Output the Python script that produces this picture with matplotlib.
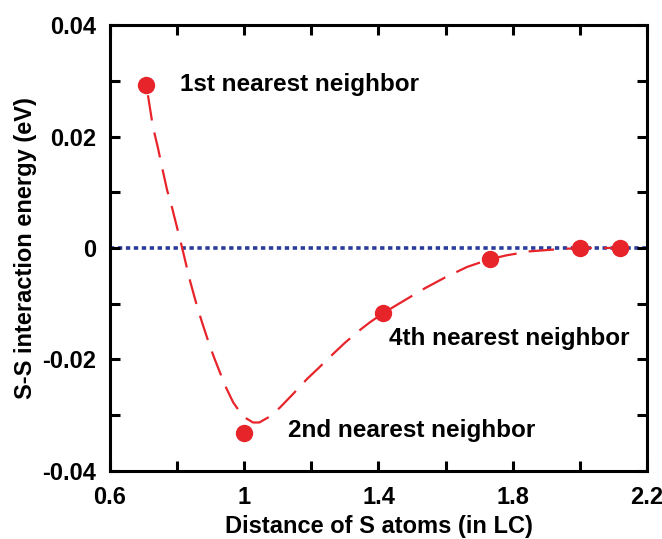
import matplotlib.pyplot as plt
from matplotlib.ticker import MultipleLocator

plt.rcParams['font.family'] = ['Liberation Sans', 'DejaVu Sans']
plt.rcParams['font.weight'] = 'bold'

# computed energies
dist = [0.707, 1.0, 1.414, 1.732, 2.0, 2.121]
energy = [0.0292, -0.0332, -0.0117, -0.0020, 0.0, 0.0]

# fitted curve
fit_x = [0.713, 0.719, 0.728, 0.743, 0.755, 0.770, 0.785, 0.800, 0.815, 0.838,
         0.859, 0.874, 0.898, 0.913, 0.943, 0.967, 0.996, 1.026, 1.045, 1.071,
         1.105, 1.142, 1.187, 1.222, 1.256, 1.300, 1.345, 1.375, 1.414, 1.455,
         1.494, 1.539, 1.598, 1.664, 1.732, 1.783, 1.851, 1.940, 2.000, 2.121]
fit_y = [0.0274, 0.0251, 0.0217, 0.0179, 0.0145, 0.0104, 0.0072, 0.0036, 0.0, -0.0058,
         -0.0104, -0.0133, -0.0177, -0.0201, -0.0247, -0.0277, -0.0302, -0.0313, -0.0313, -0.0304,
         -0.0287, -0.0264, -0.0235, -0.0215, -0.0195, -0.0170, -0.0147, -0.0133, -0.0117, -0.0102,
         -0.0088, -0.0072, -0.0053, -0.0034, -0.0020, -0.0013, -0.0006, -0.0002, 0.0, 0.0]

labels = ["1st nearest neighbor", "2nd nearest neighbor", "4th nearest neighbor"]
label_xy = [(0.810, 0.0294), (1.13, -0.0327), (1.43, -0.0163)]

fig = plt.figure(figsize=(6.62, 5.39), dpi=100)
ax = fig.add_axes([0.1662, 0.1262, 0.8111, 0.8274])

ax.axhline(0, color='#2a3b9c', lw=2.6, ls=(0, (1.2, 1.0)), zorder=1)
ax.plot(fit_x, fit_y, color='#e8242b', lw=1.6, ls=(0, (11.5, 5.5)), zorder=2)
ax.plot(dist, energy, 'o', color='#e8242b', ms=11.5, zorder=3)

for t, (x, y) in zip(labels, label_xy):
    ax.text(x, y, t, fontsize=17.5, fontweight='bold', va='center', ha='left')

ax.set_xlim(0.6, 2.2)
ax.set_ylim(-0.04, 0.04)
ax.xaxis.set_minor_locator(MultipleLocator(0.2))
ax.yaxis.set_minor_locator(MultipleLocator(0.01))
ax.set_xticks([0.6, 1.0, 1.4, 1.8, 2.2])
ax.set_xticklabels(['0.6', '1', '1.4', '1.8', '2.2'])
ax.set_yticks([-0.04, -0.02, 0, 0.02, 0.04])
ax.set_yticklabels(['-0.04', '-0.02', '0', '0.02', '0.04'])
ax.tick_params(which='both', direction='in', top=True, right=True, width=2.2,
               length=7, labelsize=17)
ax.tick_params(axis='x', pad=11)
ax.tick_params(axis='y', pad=10)
for s in ax.spines.values():
    s.set_linewidth(2.2)

ax.set_xlabel('Distance of S atoms (in LC)', fontsize=17, fontweight='bold', labelpad=4)
ax.set_ylabel('S-S interaction energy (eV)', fontsize=17, fontweight='bold', labelpad=4)

fig.savefig('out.png', dpi=100)
